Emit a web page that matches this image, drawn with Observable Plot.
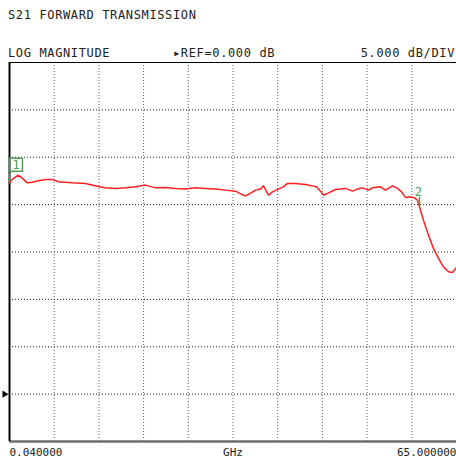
<!DOCTYPE html>
<html>
<head>
<meta charset="utf-8">
<script src="https://cdn.jsdelivr.net/npm/d3@7"></script>
<script src="https://cdn.jsdelivr.net/npm/@observablehq/plot@0.6"></script>
<style>
  html, body { margin: 0; padding: 0; background: #fff; }
  #wrap { position: relative; width: 456px; height: 463px; overflow: hidden; }
  #head { position: relative; width: 456px; height: 61px; font-family: "DejaVu Sans Mono", monospace; font-size: 12px; letter-spacing: 0.63px; color: #222; }
  #head div { position: absolute; line-height: 12px; white-space: pre; }
  svg { display: block; }
</style>
</head>
<body>
<div id="wrap">
  <div id="head">
    <div style="left:8px; top:9px;">S21 FORWARD TRANSMISSION</div>
    <div style="left:8px; top:47px;">LOG MAGNITUDE</div>
    <div style="left:173px; top:47px;">&#9656;REF=0.000 dB</div>
    <div style="right:1px; top:47px;">5.000 dB/DIV</div>
  </div>
  <div id="chart"></div>
</div>
<script>
// Sweep settings
const startGHz = 0.04;
const stopGHz = 65;
const refLevelDb = 0;
const dbPerDiv = 5;
const xDivisions = 10;
const yMinDb = -5;
const yMaxDb = 35;

// Trace: frequency in GHz, S21 in dB
const freqGHz = [0.04, 0.48, 1.30, 1.89, 2.61, 3.34, 4.25, 5.27, 6.25, 7.16, 9.15, 11.08, 12.79, 13.99, 15.44, 16.90, 18.35, 19.80, 21.26, 22.71, 24.16, 25.62, 27.07, 28.52, 29.98, 31.43, 32.89, 33.76, 34.34, 35.06, 35.79, 36.52, 36.95, 37.68, 38.26, 39.13, 39.86, 40.44, 41.60, 43.06, 44.07, 44.66, 45.24, 45.67, 46.26, 47.42, 48.87, 49.89, 50.61, 51.34, 52.21, 52.79, 53.95, 54.68, 55.70, 56.43, 57.01, 57.59, 58.31, 58.89, 59.33, 59.62, 60.20, 60.93, 61.65, 62.38, 63.11, 63.84, 64.42, 65.00];
const s21Db = [22.30, 22.69, 23.11, 22.80, 22.30, 22.37, 22.51, 22.66, 22.66, 22.41, 22.30, 22.24, 21.95, 21.77, 21.71, 21.77, 21.88, 22.06, 21.77, 21.82, 21.71, 21.64, 21.77, 21.71, 21.64, 21.53, 21.42, 21.08, 20.93, 21.18, 21.53, 21.64, 21.98, 21.00, 21.35, 21.64, 21.88, 22.24, 22.24, 22.13, 21.98, 21.88, 21.42, 21.00, 21.18, 21.60, 21.71, 21.42, 21.64, 21.77, 21.53, 21.77, 21.88, 21.53, 21.98, 21.71, 21.35, 20.76, 20.82, 20.72, 20.47, 19.77, 18.36, 16.78, 15.38, 14.32, 13.43, 12.91, 12.84, 13.37];

// Markers
const markerLabels = ["1", "2"];
const markerFreqGHz = [0.04, 59.62];
const markerDb = [22.30, 19.77];
const markerStemDb = 1.0;

// Bottom annotation labels
const bottomLabels = ["0.040000", "GHz", "65.000000"];

const trace = freqGHz.map((f, i) => ({f, db: s21Db[i]}));
const markers = markerLabels.map((m, i) => ({m, f: markerFreqGHz[i], db: markerDb[i]}));
const xGrid = d3.range(1, xDivisions).map(k => startGHz + k * (stopGHz - startGHz) / xDivisions);
const yGrid = d3.range(yMinDb + dbPerDiv, yMaxDb, dbPerDiv);
const green = "#4f9f4f";
const font = "DejaVu Sans Mono";

const plot = Plot.plot({
  width: 456,
  height: 402,
  marginTop: 1,
  marginLeft: 9,
  marginRight: 0,
  marginBottom: 22,
  x: {domain: [startGHz, stopGHz], axis: null},
  y: {domain: [yMinDb, yMaxDb], axis: null},
  style: {fontFamily: font, background: "#fff"},
  marks: [
    Plot.ruleX(xGrid, {stroke: "#333", strokeDasharray: "1,2", strokeWidth: 1, strokeOpacity: 0.8}),
    Plot.ruleY(yGrid, {stroke: "#222", strokeDasharray: "1,2", strokeWidth: 1}),
    Plot.ruleY([yMaxDb], {stroke: "#000", strokeWidth: 1}),
    Plot.ruleY([yMinDb], {stroke: "#6e6e6e", strokeWidth: 2.5}),
    Plot.ruleX([startGHz], {stroke: "#000", strokeWidth: 2}),
    Plot.dot([refLevelDb], {x: () => startGHz, y: d => d, symbol: "triangle", rotate: 90, r: 2.6, dx: -5, fill: "#000", stroke: "none"}),
    Plot.line(trace, {x: "f", y: "db", stroke: "#ff1f1f", strokeWidth: 1.5}),
    Plot.ruleX(markers, {x: "f", y1: "db", y2: d => d.db + markerStemDb, stroke: green, strokeWidth: 1.5}),
    Plot.dot(markers.slice(0, 1), {x: "f", y: "db", symbol: "square", r: 7.3, dx: 6.5, dy: -18, stroke: green, fill: "none", strokeWidth: 1.5}),
    Plot.text(markers.slice(0, 1), {x: "f", y: "db", text: "m", dx: 6.5, dy: -18, fill: green, fontSize: 12, fontFamily: font}),
    Plot.text(markers.slice(1), {x: "f", y: "db", text: "m", dx: -1, dy: -15, fill: green, fontSize: 12, fontFamily: font}),
    Plot.text([bottomLabels[0]], {x: () => startGHz, frameAnchor: "bottom", text: d => d, textAnchor: "start", lineAnchor: "bottom", dy: 14, fill: "#222", fontSize: 11, fontFamily: font, style: "letter-spacing:1.2px"}),
    Plot.text([bottomLabels[1]], {x: () => (startGHz + stopGHz) / 2, frameAnchor: "bottom", text: d => d, textAnchor: "middle", lineAnchor: "bottom", dy: 14, fill: "#222", fontSize: 11, fontFamily: font}),
    Plot.text([bottomLabels[2]], {x: () => stopGHz, frameAnchor: "bottom", text: d => d, textAnchor: "end", lineAnchor: "bottom", dy: 14, fill: "#222", fontSize: 11, fontFamily: font})
  ]
});
document.getElementById("chart").appendChild(plot);
</script>
</body>
</html>
